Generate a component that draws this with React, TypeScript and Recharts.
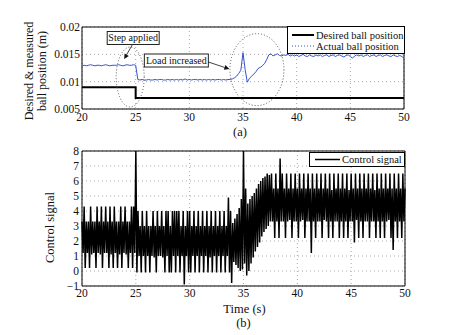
import {
  CartesianGrid,
  Legend,
  Line,
  LineChart,
  ReferenceArea,
  ReferenceDot,
  XAxis,
  YAxis
} from "recharts"

const SERIF = "'Liberation Serif', 'Times New Roman', serif"

const timeTicks = [20, 25, 30, 35, 40, 45, 50]
const positionTicks = [0.005, 0.01, 0.015, 0.02]
const controlTicks = [-1, 0, 1, 2, 3, 4, 5, 6, 7, 8]

// desired ball position (step at t = 25 s)
const desiredTime = [20, 25, 25, 50]
const desiredPosition = [0.009, 0.009, 0.007, 0.007]

// measured ball position, sampled every 0.2 s from 20 s
const actualStart = 20
const actualStep = 0.2
const actualPosition = [
  0.0129, 0.013, 0.0129, 0.013, 0.0131,
  0.013, 0.0129, 0.013, 0.013, 0.0129,
  0.013, 0.0131, 0.013, 0.0129, 0.013,
  0.013, 0.013, 0.0131, 0.013, 0.0129,
  0.013, 0.0131, 0.013, 0.013, 0.0131,
  0.013, 0.0104, 0.0103, 0.0104, 0.0103,
  0.0103, 0.0104, 0.0103, 0.0103, 0.0104,
  0.0103, 0.0104, 0.0104, 0.0103, 0.0103,
  0.0104, 0.0103, 0.0104, 0.0103, 0.0104,
  0.0103, 0.0104, 0.0103, 0.0105, 0.0103,
  0.0104, 0.0103, 0.0104, 0.0104, 0.0103,
  0.0104, 0.0103, 0.0104, 0.0103, 0.0104,
  0.0103, 0.0104, 0.0103, 0.0104, 0.0104,
  0.0103, 0.0104, 0.0103, 0.0104, 0.0104,
  0.0105, 0.0107, 0.011, 0.0115, 0.0121,
  0.0153, 0.0122, 0.0099, 0.0106, 0.011,
  0.0114, 0.0118, 0.0124, 0.0126, 0.0129,
  0.0133, 0.014, 0.0149, 0.0151, 0.0147,
  0.0149, 0.0151, 0.0148, 0.0147, 0.0149,
  0.0148, 0.015, 0.0147, 0.0149, 0.0147,
  0.0149, 0.0146, 0.0148, 0.015, 0.0147,
  0.0146, 0.0149, 0.0147, 0.0146, 0.0149,
  0.0147, 0.0149, 0.0146, 0.0148, 0.0149,
  0.0146, 0.0148, 0.0149, 0.0146, 0.0148,
  0.0149, 0.0147, 0.0145, 0.0148, 0.0149,
  0.0146, 0.0143, 0.0147, 0.0149, 0.0147,
  0.0149, 0.0146, 0.0148, 0.0149, 0.0146,
  0.0148, 0.0149, 0.0146, 0.0148, 0.0149,
  0.0146, 0.0148, 0.0149, 0.0147, 0.0146,
  0.0149, 0.0147, 0.0146, 0.0148, 0.0146,
  0.0143
]

// control signal, sampled every 0.1 s from 20 s (one row per second)
const controlStart = 20
const controlStep = 0.1
const controlSignal = [
  3.3, 1.2, 4.3, 0.2, 3.3, 1.2, 3.3, 0.2, 4.3, 1.1,
  3.3, 1.2, 3.3, 0.2, 4.3, 1.2, 3.3, 1.1, 4.3, 0.2,
  3.3, 1.2, 4.3, 1.2, 3.3, 0.2, 4.3, 1.1, 3.3, 0.2,
  4.3, 1.2, 3.3, 0.2, 3.3, 1.1, 4.3, 0.2, 3.3, 1.2,
  4.3, 1.1, 3.3, 0.2, 3.3, 1.2, 4.3, 0.2, 4.3, 1.2,
  8.0, -0.1, 4.0, 1.0, 3.0, -0.1, 4.0, 1.0, 3.0, -0.1,
  4.0, 1.0, 3.0, -0.1, 3.0, 1.0, 4.0, 0.9, 3.0, -0.1,
  4.0, 1.0, 3.0, 1.0, 4.0, 0.9, 3.0, -0.1, 4.0, 1.0,
  4.0, -0.1, 3.0, -0.1, 4.0, 1.0, 4.0, -0.1, 4.0, 1.0,
  4.0, -0.1, 3.0, 1.0, 4.0, -0.9, 3.0, 1.0, 4.0, -0.1,
  4.0, -0.1, 3.0, 1.0, 4.0, -0.1, 3.0, 1.0, 4.0, -0.1,
  3.0, 1.0, 4.0, -0.1, 3.0, 1.0, 4.0, -0.1, 3.0, 0.9,
  4.0, -0.1, 3.0, 1.0, 4.0, -0.1, 3.0, 1.0, 4.0, -0.1,
  3.0, 1.0, 4.0, -0.1, 3.0, 1.0, 4.9, -0.1, 4.0, -0.8,
  3.2, 0.6, 3.5, 0.4, 3.8, 0.2, 4.2, 0.0, 4.8, 0.1,
  8.0, 0.5, 5.5, -0.3, 4.5, 0.0, 4.8, 0.5, 5.0, 0.9,
  5.2, 1.3, 5.5, 1.6, 5.8, 1.9, 6.0, 2.3, 6.2, 2.6,
  6.3, 2.8, 6.5, 3.0, 6.4, 3.3, 6.5, 3.3, 5.5, 2.2,
  6.5, 3.3, 5.5, 2.2, 7.5, 3.3, 6.5, 3.3, 5.5, 2.2,
  6.5, 3.3, 5.5, 3.4, 6.5, 2.2, 5.5, 3.3, 6.5, 3.3,
  5.5, 2.2, 6.5, 3.3, 5.5, 3.4, 6.5, 2.2, 5.5, 3.3,
  6.5, 3.3, 5.5, 1.2, 6.5, 3.3, 5.5, 2.2, 6.5, 3.3,
  5.5, 3.3, 6.5, 2.2, 5.5, 3.4, 6.5, 3.3, 5.5, 2.2,
  6.5, 3.3, 5.4, 2.2, 6.5, 3.3, 5.5, 3.3, 6.5, 2.2,
  5.5, 3.3, 6.5, 2.2, 5.5, 3.3, 6.5, 2.2, 5.4, 3.3,
  6.5, 3.3, 5.5, 1.9, 6.5, 3.4, 5.5, 2.2, 6.5, 3.3,
  5.5, 2.2, 6.5, 3.3, 5.5, 3.3, 6.5, 2.2, 5.5, 3.3,
  6.5, 3.3, 5.4, 2.2, 6.5, 3.3, 5.5, 2.2, 6.5, 3.3,
  5.5, 2.2, 6.5, 3.3, 5.5, 3.4, 6.5, 2.2, 5.5, 1.4,
  6.5, 3.3, 5.5, 2.2, 6.5, 3.3, 5.5, 2.2, 6.5, 3.3,
  5.5
]

const desiredData = desiredTime.map((t, i) => ({ t, v: desiredPosition[i] }))
const actualData = actualPosition.map((v, i) => ({ t: +(actualStart + i * actualStep).toFixed(2), v }))
const controlData = controlSignal.map((u, i) => ({ t: +(controlStart + i * controlStep).toFixed(2), u }))

const tickStyle = { fontSize: 11.5, fill: "#111", fontFamily: SERIF }

function Arrow({ x1, y1, x2, y2 }: any) {
  const a = Math.atan2(y2 - y1, x2 - x1)
  const bx = x2 - 5 * Math.cos(a)
  const by = y2 - 5 * Math.sin(a)
  const s = 2.5 * Math.sin(a)
  const c = 2.5 * Math.cos(a)
  return (
    <g>
      <line x1={x1} y1={y1} x2={bx} y2={by} stroke="#111" strokeWidth={0.8} />
      <polygon points={`${x2},${y2} ${bx + s},${by - c} ${bx - s},${by + c}`} fill="#111" />
    </g>
  )
}

function NoteBox({ cx, cy, text, w, from, to }: any) {
  return (
    <g>
      <rect x={cx - w / 2} y={cy - 6.5} width={w} height={13} fill="#fff" stroke="#222" strokeWidth={1} />
      <text x={cx} y={cy + 3.5} textAnchor="middle" fontSize={10} fontFamily={SERIF} fill="#111">
        {text}
      </text>
      <Arrow x1={cx + from[0]} y1={cy + from[1]} x2={cx + to[0]} y2={cy + to[1]} />
    </g>
  )
}

function DottedEllipse({ cx, cy, rx, ry }: any) {
  return <ellipse cx={cx} cy={cy} rx={rx} ry={ry} fill="none" stroke="#555" strokeWidth={1} strokeDasharray="1 2" />
}

function PositionLegend() {
  return (
    <svg width={118} height={28} style={{ display: "block" }} fontFamily={SERIF}>
      <rect x={0.5} y={0.5} width={117} height={27} fill="#fff" stroke="#000" />
      <line x1={5} x2={27} y1={9} y2={9} stroke="#000" strokeWidth={2} />
      <text x={29} y={12.5} fontSize={10.5} fill="#111">Desired ball position</text>
      <line x1={5} x2={27} y1={20} y2={20} stroke="#3355cc" strokeDasharray="1 2" />
      <text x={29} y={23.5} fontSize={10.5} fill="#111">Actual ball position</text>
    </svg>
  )
}

function ControlLegend() {
  return (
    <svg width={96} height={15} style={{ display: "block" }} fontFamily={SERIF}>
      <rect x={0.5} y={0.5} width={95} height={14} fill="#fff" stroke="#000" />
      <line x1={6} x2={31} y1={7.5} y2={7.5} stroke="#000" strokeWidth={1.5} />
      <text x={33} y={11} fontSize={10.5} fill="#111">Control signal</text>
    </svg>
  )
}

const topYLabel = ({ viewBox }: any) => {
  const cx = 33
  const cy = (viewBox ? viewBox.y + viewBox.height / 2 : 68) + 3
  return (
    <text transform={`rotate(-90 ${cx} ${cy})`} x={cx} y={cy} textAnchor="middle" fontSize={12} fontFamily={SERIF} fill="#111">
      <tspan x={cx} dy={0}>{"Desired & measured"}</tspan>
      <tspan x={cx} dy={13}>{"ball position (m)"}</tspan>
    </text>
  )
}

const bottomYLabel = ({ viewBox }: any) => {
  const cx = 54
  const cy = (viewBox ? viewBox.y + viewBox.height / 2 : 78) + 9
  return (
    <text transform={`rotate(-90 ${cx} ${cy})`} x={cx} y={cy} textAnchor="middle" fontSize={12.5} fontFamily={SERIF} fill="#111">
      Control signal
    </text>
  )
}

const topXLabel = ({ viewBox }: any) => (
  <text x={viewBox.x + viewBox.width / 2 - 3} y={viewBox.y + 27} textAnchor="middle" fontSize={12.5} fontFamily={SERIF} fill="#111">
    (a)
  </text>
)

const bottomXLabel = ({ viewBox }: any) => (
  <g fontFamily={SERIF} fill="#111" textAnchor="middle">
    <text x={viewBox.x + viewBox.width / 2 + 1} y={viewBox.y + 27} fontSize={12.5}>Time (s)</text>
    <text x={viewBox.x + viewBox.width / 2} y={viewBox.y + 41} fontSize={12.5}>(b)</text>
  </g>
)

export default function App() {
  return (
    <div style={{ position: "absolute", left: 0, top: 0, width: 456, height: 335, background: "#fff", fontFamily: SERIF }}>
      <div style={{ position: "absolute", left: 0, top: 0 }}>
        <LineChart width={456} height={140} margin={{ top: 27, right: 52, bottom: 0, left: 0 }}>
          <CartesianGrid stroke="#aaa" strokeDasharray="1 3" />
          <XAxis
            type="number"
            dataKey="t"
            domain={[20, 50]}
            ticks={timeTicks}
            interval={0}
            axisLine={false}
            tickLine={false}
            tickSize={4}
            tickMargin={0}
            height={31}
            tick={tickStyle}
            label={{ content: topXLabel }}
          />
          <YAxis
            type="number"
            domain={[0.005, 0.02]}
            ticks={positionTicks}
            interval={0}
            allowDataOverflow
            axisLine={false}
            tickLine={false}
            tickSize={0}
            tickMargin={2}
            width={82}
            tick={tickStyle}
            label={{ content: topYLabel }}
          />
          <ReferenceArea x1={20} x2={50} y1={0.005} y2={0.02} fill="none" fillOpacity={0} stroke="#000" strokeWidth={1} />
          <Line
            data={desiredData}
            dataKey="v"
            stroke="#000"
            strokeWidth={2}
            dot={false}
            isAnimationActive={false}
            name="Desired ball position"
          />
          <Line
            data={actualData}
            dataKey="v"
            stroke="#3355cc"
            strokeWidth={1}
            dot={false}
            isAnimationActive={false}
            name="Actual ball position"
          />
          <ReferenceDot x={24.49} y={0.01085} ifOverflow="visible" shape={(p: any) => <DottedEllipse cx={p.cx} cy={p.cy} rx={14} ry={30} />} />
          <ReferenceDot x={36.3} y={0.0122} ifOverflow="visible" shape={(p: any) => <DottedEllipse cx={p.cx} cy={p.cy} rx={27} ry={36} />} />
          <ReferenceDot
            x={24.77}
            y={0.01799}
            ifOverflow="visible"
            shape={(p: any) => <NoteBox cx={p.cx} cy={p.cy} w={52} text="Step applied" from={[-1, 7]} to={[-9, 21]} />}
          />
          <ReferenceDot
            x={28.79}
            y={0.01387}
            ifOverflow="visible"
            shape={(p: any) => <NoteBox cx={p.cx} cy={p.cy} w={64} text="Load increased" from={[32, 1.5]} to={[53, 8.5]} />}
          />
          <Legend
            layout="vertical"
            align="center"
            verticalAlign="middle"
            content={() => <PositionLegend />}
            wrapperStyle={{ top: 26, left: 287, width: 118, height: 28 }}
          />
        </LineChart>
      </div>
      <div style={{ position: "absolute", left: 0, top: 140 }}>
        <LineChart data={controlData} width={456} height={195} margin={{ top: 11, right: 51, bottom: 0, left: 0 }}>
          <CartesianGrid stroke="#aaa" strokeDasharray="1 3" />
          <XAxis
            type="number"
            dataKey="t"
            domain={[20, 50]}
            ticks={timeTicks}
            interval={0}
            axisLine={false}
            tickLine={false}
            tickSize={3}
            tickMargin={0}
            height={49}
            tick={tickStyle}
            label={{ content: bottomXLabel }}
          />
          <YAxis
            type="number"
            domain={[-1, 8]}
            ticks={controlTicks}
            interval={0}
            allowDataOverflow
            axisLine={false}
            tickLine={false}
            tickSize={0}
            tickMargin={3}
            width={82}
            tick={tickStyle}
            tickFormatter={(v: number) => String(v).replace("-", "\u2212")}
            label={{ content: bottomYLabel }}
          />
          <ReferenceArea x1={20} x2={50} y1={-1} y2={8} fill="none" fillOpacity={0} stroke="#000" strokeWidth={1} />
          <Line
            dataKey="u"
            stroke="#000"
            strokeWidth={1.5}
            dot={false}
            isAnimationActive={false}
            name="Control signal"
          />
          <Legend
            layout="vertical"
            align="center"
            verticalAlign="middle"
            content={() => <ControlLegend />}
            wrapperStyle={{ top: 12, left: 309, width: 96, height: 15 }}
          />
        </LineChart>
      </div>
    </div>
  )
}
